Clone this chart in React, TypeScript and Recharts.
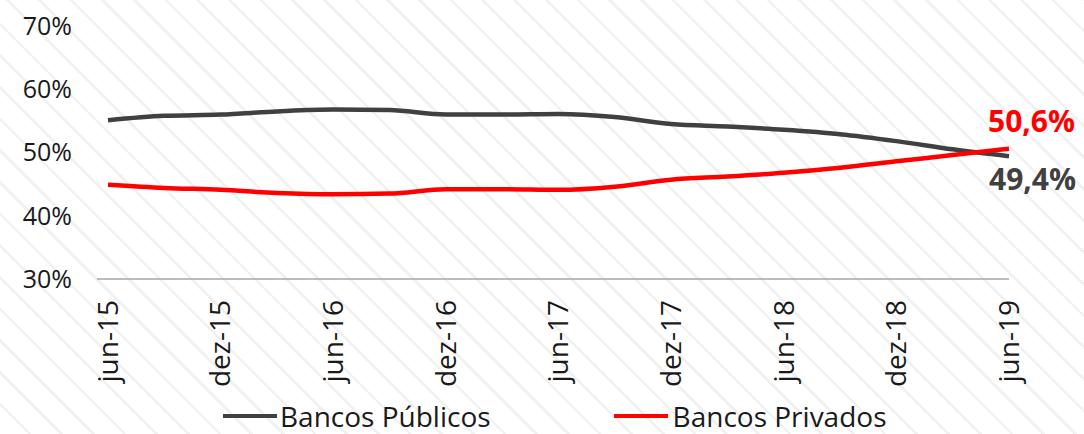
import React from 'react';
import { LineChart, Line, XAxis, YAxis, LabelList } from 'recharts';

// quarterly points, jun-15 .. jun-19
const periods = [
  'jun-15', 'set-15', 'dez-15', 'mar-16', 'jun-16', 'set-16', 'dez-16', 'mar-17', 'jun-17',
  'set-17', 'dez-17', 'mar-18', 'jun-18', 'set-18', 'dez-18', 'mar-19', 'jun-19',
];
const publicos = [55.1, 55.8, 56.0, 56.5, 56.8, 56.7, 56.0, 56.0, 56.1, 55.6, 54.5, 54.1, 53.6, 52.9, 51.8, 50.5, 49.4];
const privados = [44.9, 44.4, 44.1, 43.6, 43.4, 43.5, 44.2, 44.2, 44.1, 44.6, 45.7, 46.2, 46.8, 47.6, 48.6, 49.6, 50.6];
const yTicks = [30, 40, 50, 60, 70];

const data = periods.map((p, i) => ({ period: p, publicos: publicos[i], privados: privados[i] }));

const FONT = '"Open Sans", "Noto Sans", sans-serif';
const GRAY = '#404040';
const RED = '#ff0000';

const fmt = (v: number) => `${v.toFixed(1).replace('.', ',')}%`;

const XTick = ({ x, y, payload }: any) => (
  <text
    transform={`translate(${x},${y}) rotate(-90)`}
    textAnchor="end"
    dy="0.35em"
    fill="#1a1a1a"
    fontSize={28}
    fontFamily={FONT}
  >
    {payload.value}
  </text>
);

const endLabel = (color: string, dx: number, dy: number) => (props: any) => {
  const { x, y, index, value } = props;
  if (index !== periods.length - 1) return null;
  return (
    <text x={x + dx} y={y + dy} fill={color} fontSize={30} fontWeight={700} fontFamily={FONT}>
      {fmt(value)}
    </text>
  );
};

export default function App() {
  return (
    <div
      style={{
        position: 'absolute',
        left: 0,
        top: 0,
        width: 1084,
        height: 434,
        background:
          'repeating-linear-gradient(45deg, #ffffff 0px, #ffffff 19.8px, #f1f1f1 19.8px, #f1f1f1 22.4px)',
        fontFamily: FONT,
      }}
    >
      <LineChart width={1084} height={434} data={data} margin={{ top: 26, right: 75, left: 0, bottom: 0 }}>
        <XAxis
          dataKey="period"
          interval={1}
          tick={<XTick />}
          tickLine={false}
          tickSize={0}
          tickMargin={21}
          height={155}
          padding={{ left: 11, right: 0 }}
          axisLine={{ stroke: '#a6a6a6', strokeWidth: 1.5 }}
        />
        <YAxis
          domain={[30, 70]}
          ticks={yTicks}
          tickFormatter={(v) => `${v}%`}
          width={97}
          axisLine={false}
          tickLine={false}
          tickSize={0}
          tickMargin={25}
          tick={{ fill: '#1a1a1a', fontSize: 25, fontFamily: FONT }}
        />
        <Line
          type="monotone"
          dataKey="publicos"
          stroke={GRAY}
          strokeWidth={4.5}
          dot={false}
          isAnimationActive={false}
        >
          <LabelList dataKey="publicos" content={endLabel(GRAY, -20, 34)} />
        </Line>
        <Line
          type="monotone"
          dataKey="privados"
          stroke={RED}
          strokeWidth={4.5}
          dot={false}
          isAnimationActive={false}
        >
          <LabelList dataKey="privados" content={endLabel(RED, -21, -17)} />
        </Line>
      </LineChart>
      <div
        style={{
          position: 'absolute',
          left: 223,
          top: 397,
          display: 'flex',
          alignItems: 'center',
          fontSize: 28,
          color: '#1a1a1a',
          whiteSpace: 'nowrap',
        }}
      >
        <span style={{ display: 'inline-block', width: 54, height: 4.5, background: GRAY, marginRight: 3 }} />
        <span style={{ marginRight: 123 }}>Bancos Públicos</span>
        <span style={{ display: 'inline-block', width: 54, height: 4.5, background: RED, marginRight: 5 }} />
        <span>Bancos Privados</span>
      </div>
    </div>
  );
}
